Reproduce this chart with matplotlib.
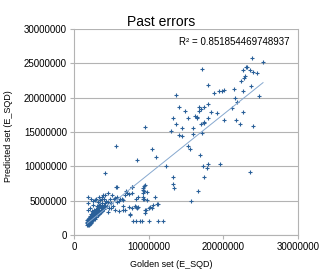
import matplotlib
matplotlib.use("Agg")
import matplotlib.pyplot as plt
import numpy as np

# ---------------------------------------------------------------------------
# Data (millions)
# ---------------------------------------------------------------------------

# dense low-value cluster
cluster_x = [1.8, 1.9, 1.8, 2.0, 1.9, 2.1, 2.0, 1.8, 2.2, 2.1, 1.9, 2.3, 2.2, 2.0, 2.4, 2.3, 2.1, 2.5, 2.4, 2.2,
             2.6, 2.5, 2.3, 2.7, 2.6, 2.8, 2.7, 2.9, 2.5, 3.0, 2.8, 3.1, 2.9, 3.2, 3.3, 3.0, 3.4, 3.2, 3.5, 3.6,
             3.4, 3.7, 3.8, 3.5, 3.9, 4.0, 3.7, 4.2, 4.1, 4.4, 1.85, 1.95, 2.05, 2.15, 1.9, 2.0, 2.25, 2.35, 2.45, 2.55,
             2.65, 2.75, 2.1, 2.0, 2.3, 1.9, 2.6, 2.4, 1.8, 2.8, 3.0, 3.2, 3.4, 3.6, 2.9, 3.1, 3.3, 2.7, 3.8, 4.0]
cluster_y = [1.5, 1.6, 1.7, 1.5, 1.8, 1.6, 1.9, 1.9, 1.7, 2.0, 2.1, 1.8, 2.1, 2.2, 2.0, 2.3, 2.4, 2.2, 2.5, 2.6,
             2.4, 2.7, 2.8, 2.6, 2.9, 2.8, 3.1, 3.0, 3.2, 3.2, 3.4, 3.4, 3.6, 3.1, 3.5, 3.8, 3.7, 3.9, 3.4, 3.9,
             4.1, 3.6, 4.2, 4.4, 4.0, 4.4, 4.6, 4.1, 4.7, 4.3, 1.55, 1.65, 1.75, 1.85, 1.45, 1.6, 1.95, 2.15, 2.35, 2.55,
             2.75, 2.95, 2.8, 2.5, 3.0, 2.4, 3.4, 3.0, 2.2, 2.4, 2.7, 2.9, 3.1, 3.3, 2.6, 4.2, 4.4, 3.7, 3.5, 3.8]

# scattered low / mid values
mid_x = [1.9, 1.9, 1.9, 2.5, 2.8, 3.0, 3.2, 3.5, 3.7, 3.9, 3.7, 4.3, 4.5, 4.8, 5.1, 5.3, 5.5, 5.7, 6.2, 6.6,
         5.0, 4.6, 2.6, 2.2, 4.9, 5.5, 6.0, 6.5, 5.2, 4.5, 4.7, 5.8, 6.0, 2.3, 2.4, 3.3, 4.0, 4.2, 5.6, 5.7,
         6.4, 6.8, 7.1, 7.3, 7.7, 4.2, 5.6, 6.8, 7.3, 6.5,
         7.7, 8.2, 8.4, 7.5, 8.3, 8.6, 9.5, 9.3, 9.8, 9.3, 9.8, 10.9, 10.2, 10.6, 11.1, 9.5, 10.0, 10.4, 9.4, 9.2,
         9.4, 9.2, 6.9, 7.8, 7.8, 9.3, 9.4, 8.3, 8.6, 9.7, 11.3, 9.5, 7.5,
         7.9, 8.3, 8.8, 9.1, 10.0, 11.2, 11.9,
         8.5, 10.4, 11.0, 12.3, 13.3, 13.3, 13.4, 15.6, 15.3, 15.5, 16.9, 17.3, 17.8, 18.0, 17.4, 16.6, 19.6, 23.5]
mid_y = [4.7, 5.6, 3.6, 4.9, 5.1, 5.3, 4.8, 5.1, 5.3, 5.8, 5.6, 5.0, 6.1, 5.2, 5.8, 5.2, 5.4, 5.6, 5.3, 5.1,
         4.6, 4.8, 4.4, 4.0, 3.9, 3.7, 3.5, 3.6, 4.3, 3.4, 4.0, 4.8, 5.0, 5.2, 3.5, 5.6, 5.2, 5.9, 7.0, 7.0,
         5.3, 5.8, 6.1, 6.0, 7.0, 9.1, 12.9, 3.7, 4.1, 4.2,
         3.9, 4.2, 3.9, 2.9, 5.3, 5.6, 7.3, 6.6, 6.2, 5.3, 5.1, 5.6, 4.1, 4.4, 4.5, 3.7, 3.9, 4.0, 7.2, 6.8,
         6.4, 6.1, 6.4, 7.0, 6.1, 5.6, 5.3, 4.1, 4.1, 3.7, 4.5, 3.2, 3.1,
         2.0, 2.0, 2.0, 2.0, 2.0, 2.0, 2.0,
         10.9, 12.5, 11.4, 10.0, 8.5, 7.5, 6.8, 4.9, 13.0, 12.5, 11.6, 10.0, 9.8, 10.3, 8.5, 6.4, 10.4, 9.2]

# high values
high_x = [23.8, 25.3, 17.2, 23.1, 22.6, 23.6, 24.5, 22.9, 22.7, 22.3, 18.0, 23.7, 21.4, 20.1, 19.4, 19.8, 18.7,
          22.6, 13.6, 24.7, 21.5, 21.8, 18.0, 14.1, 16.7, 17.4, 14.8, 17.0, 16.8, 18.4, 19.2, 21.1, 22.6, 13.2,
          15.2, 16.2, 16.5, 16.4, 18.0, 17.4, 17.4, 20.1, 21.7, 13.7, 17.0, 14.5, 15.9, 22.2, 24.0, 9.5, 13.0,
          14.1, 14.5, 15.9, 17.2, 23.9, 23.0]
high_y = [25.7, 25.2, 24.1, 24.4, 24.0, 24.0, 23.6, 23.1, 22.9, 22.4, 21.9, 21.7, 21.3, 21.1, 20.9, 20.9, 20.7,
          20.9, 20.4, 20.2, 19.9, 19.3, 19.1, 18.7, 18.7, 18.7, 18.1, 18.3, 18.0, 17.9, 17.7, 18.5, 17.9, 17.1,
          17.1, 17.3, 17.2, 17.0, 17.1, 16.5, 16.3, 16.7, 16.8, 16.1, 16.1, 15.6, 15.6, 16.1, 15.9, 15.7, 15.2,
          14.5, 14.4, 14.7, 14.9, 23.8, 24.4]

R2_LABEL = "R² = 0.851854469748937"

golden = np.array(cluster_x + mid_x + high_x) * 1e6
predicted = np.array(cluster_y + mid_y + high_y) * 1e6

# ---------------------------------------------------------------------------
# Plot
# ---------------------------------------------------------------------------

plt.rcParams["font.family"] = ["Liberation Sans", "DejaVu Sans"]

fig = plt.figure(figsize=(3.23, 2.73), dpi=100)
ax = fig.add_axes([0.229, 0.139, 0.694, 0.755])

grid_c = "#b3b3b3"
ax.set_axisbelow(True)
ax.grid(True, axis="y", color=grid_c, linewidth=0.8)

ax.plot(golden, predicted, linestyle="none", marker="+", markersize=3,
        markeredgewidth=0.8, color="#2a6099")

slope, intercept = np.polyfit(golden, predicted, 1)
xs = np.array([golden.min(), golden.max()])
ax.plot(xs, slope * xs + intercept, color="#86a8cf", linewidth=0.7)

ax.set_xlim(0, 30e6)
ax.set_ylim(0, 30e6)
ax.set_xticks([0, 10e6, 20e6, 30e6])
ax.set_yticks(np.arange(0, 30e6 + 1, 5e6))
ax.xaxis.set_major_formatter(matplotlib.ticker.FuncFormatter(lambda v, p: f"{v:.0f}"))
ax.yaxis.set_major_formatter(matplotlib.ticker.FuncFormatter(lambda v, p: f"{v:.0f}"))
ax.tick_params(labelsize=7, length=3, color=grid_c, width=0.8, pad=2)

for side in ("left", "bottom", "right"):
    ax.spines[side].set_color(grid_c)
    ax.spines[side].set_linewidth(0.8)
ax.spines["top"].set_visible(False)

ax.text(0.96, 0.935, R2_LABEL, transform=ax.transAxes, ha="right", va="center", fontsize=7)

fig.text(0.5, 0.905, "Past errors", ha="center", va="baseline", fontsize=10)
fig.text(0.53, 0.03, "Golden set (E_SQD)", ha="center", va="center", fontsize=6.5)
fig.text(0.025, 0.5, "Predicted set (E_SQD)", ha="center", va="center", rotation=90, fontsize=6.5)

fig.savefig("out.png", dpi=100)
